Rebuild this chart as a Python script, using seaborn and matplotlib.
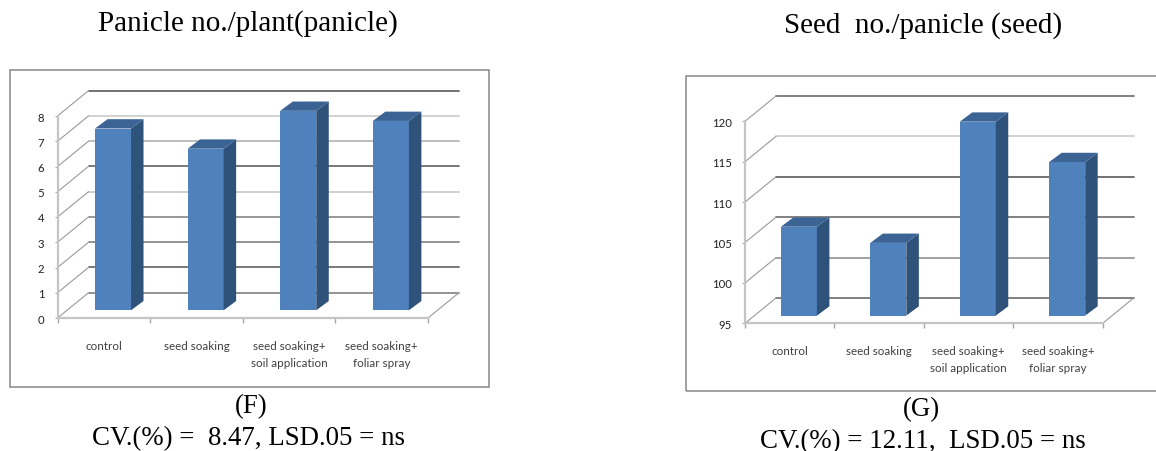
import matplotlib
matplotlib.use('Agg')
import matplotlib.pyplot as plt
from matplotlib.patches import Polygon, Rectangle
import seaborn as sns

categories = ['control', 'seed soaking', 'seed soaking+\nsoil application', 'seed soaking+\nfoliar spray']
panicle_values = [7.2, 6.4, 7.9, 7.5]
seed_values = [106, 104, 119, 114]
panicle_ticks = [0, 1, 2, 3, 4, 5, 6, 7, 8]
seed_ticks = [95, 100, 105, 110, 115, 120]

W, H = 1156, 452

sns.set_style('white')
plt.rcParams['font.family'] = ['Lato', 'DejaVu Sans']
SERIF = 'Liberation Serif'

fig = plt.figure(figsize=(W / 100, H / 100), dpi=100, facecolor='white')


def make_axes(x0, x1, y_low, y_high):
    return fig.add_axes([x0 / W, 1 - y_low / H, (x1 - x0) / W, (y_low - y_high) / H])


def frame(x0, x1, y0, y1):
    fig.add_artist(Rectangle((x0 / W, 1 - y1 / H), (x1 - x0) / W, (y1 - y0) / H, transform=fig.transFigure,
                             fill=False, edgecolor='#868686', linewidth=1.1))


def chart_3d(ax, values, ticks, grid_colors):
    y_min, y_max = ticks[0], ticks[-1]
    px_x = 4 / (ax.get_position().width * W)    # data units per pixel
    px_y = (y_max - y_min) / (ax.get_position().height * H)

    sns.barplot(x=categories, y=values, ax=ax, color='#4f81bd', saturation=1, width=36 * px_x,
                linewidth=0, zorder=4)
    ax.set_xlim(-0.5, 3.5)
    ax.set_ylim(y_min, y_max)

    wall_x = 31 * px_x
    wall_y = 25.3 * px_y
    wall = dict(color='#9a9a9a', linewidth=0.8, clip_on=False, zorder=1)

    # back wall lines and the diagonals of the side wall
    for t, c in zip(ticks, grid_colors):
        ax.plot([-0.5 + wall_x, 3.5 + wall_x], [t + wall_y, t + wall_y], color=c, linewidth=1.3,
                clip_on=False, zorder=1)
        ax.plot([-0.5, -0.5 + wall_x], [t, t + wall_y], **wall)
    ax.plot([3.5, 3.5 + wall_x], [y_min, y_min + wall_y], **wall)

    # bars start above the floor edge, side and top faces go with them
    lift = 7.7 * px_y
    base = y_min + lift
    dx = 12.5 * px_x
    dy = 9.3 * px_y
    for p, v in zip(ax.patches, values):
        top = v + lift
        p.set_x(p.get_x() + 9.2 * px_x)
        p.set_y(base)
        p.set_height(top - base)
        p.set_clip_on(False)
        x0 = p.get_x()
        x1 = x0 + p.get_width()
        ax.add_patch(Polygon([(x1, base), (x1 + dx, base + dy), (x1 + dx, top + dy), (x1, top)],
                             facecolor='#2f527a', edgecolor='none', clip_on=False, zorder=4))
        ax.add_patch(Polygon([(x0, top), (x0 + dx, top + dy), (x1 + dx, top + dy), (x1, top)],
                             facecolor='#3b6494', edgecolor='none', clip_on=False, zorder=4))

    sns.despine(ax=ax, top=True, right=True)
    ax.patch.set_alpha(0)
    ax.spines['left'].set_color('#c4c4c4')
    ax.spines['left'].set_linewidth(1.6)
    ax.spines['bottom'].set_color('#c4c4c4')
    ax.spines['bottom'].set_linewidth(1.6)
    ax.set_yticks(ticks)
    ax.set_xticks([0, 1, 2, 3])
    ax.set_xticklabels(categories, fontsize=8.4, color='#404040', linespacing=1.7)
    ax.set_xticks([-0.5, 0.5, 1.5, 2.5, 3.5], minor=True)
    ax.tick_params(axis='x', which='major', length=0, pad=15.5)
    ax.tick_params(axis='x', which='minor', length=3.5, width=1, color='#a8a8a8', bottom=True)
    ax.tick_params(axis='y', length=2.5, width=0.8, color='#a8a8a8', labelsize=8.2, labelcolor='#222222',
                   pad=7, left=True)
    ax.set_xlabel('')
    ax.set_ylabel('')


ax_f = make_axes(57.5, 428, 319, 117)
chart_3d(ax_f, panicle_values, panicle_ticks,
         ['#8a8a8a', '#6e6e6e', '#8a8a8a', '#909090', '#cccccc', '#6e6e6e', '#b8b8b8', '#cfcfcf', '#666666'])

ax_g = make_axes(745, 1102.7, 324.3, 122.3)
chart_3d(ax_g, seed_values, seed_ticks,
         ['#777777', '#9a9a9a', '#777777', '#666666', '#cfcfcf', '#777777'])

frame(10, 489, 71, 388)
frame(685.5, 1170, 77, 392)

serif = dict(family=SERIF, color='black', ha='center', va='baseline')
fig.text(248 / W, 1 - 31 / H, 'Panicle no./plant(panicle)', fontsize=21, **serif)
fig.text(923.5 / W, 1 - 33 / H, 'Seed  no./panicle (seed)', fontsize=21, **serif)
fig.text(251.5 / W, 1 - 413 / H, '(F)', fontsize=19.4, **serif)
fig.text(248.3 / W, 1 - 445.5 / H, 'CV.(%) =  8.47, LSD.05 = ns', fontsize=19.4, **serif)
fig.text(921.5 / W, 1 - 416.5 / H, '(G)', fontsize=19.4, **serif)
fig.text(923 / W, 1 - 448 / H, 'CV.(%) = 12.11,  LSD.05 = ns', fontsize=19.4, **serif)

fig.savefig('out.png', dpi=100)
